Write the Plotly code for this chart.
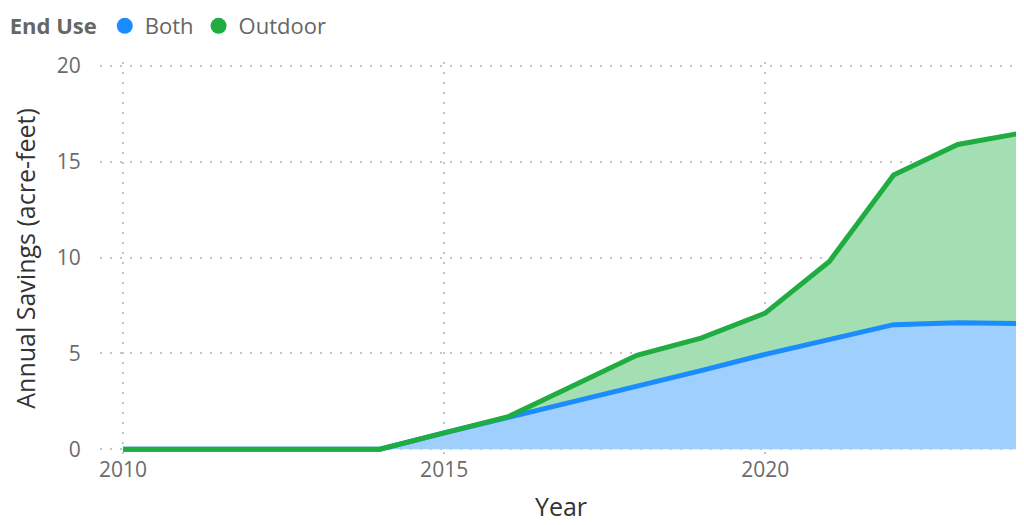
import plotly.graph_objects as go

years = list(range(2010, 2025))
both = [0, 0, 0, 0, 0, 0.85, 1.65, 2.5, 3.3, 4.1, 4.95, 5.7, 6.5, 6.6, 6.55]
outdoor = [0, 0, 0, 0, 0, 0, 0.05, 0.8, 1.6, 1.7, 2.15, 4.1, 7.8, 9.3, 9.95]

BLUE = "#1a8cff"
BLUE_FILL = "#9ecffd"
GREEN = "#1fac41"
GREEN_FILL = "#a3dfb2"

fig = go.Figure()

# stacked areas
fig.add_trace(go.Scatter(x=years, y=both, name="Both", stackgroup="one",
                         mode="lines", line=dict(color=BLUE, width=5),
                         fillcolor=BLUE_FILL, showlegend=False))
fig.add_trace(go.Scatter(x=years, y=outdoor, name="Outdoor", stackgroup="one",
                         mode="lines", line=dict(color=GREEN, width=5),
                         fillcolor=GREEN_FILL, showlegend=False))

# legend entries with round markers
fig.add_trace(go.Scatter(x=[None], y=[None], mode="markers", name="Both",
                         marker=dict(color=BLUE, size=22)))
fig.add_trace(go.Scatter(x=[None], y=[None], mode="markers", name="Outdoor",
                         marker=dict(color=GREEN, size=22)))

grid = dict(showgrid=True, gridcolor="#c4c4c4", griddash="2px,8px", gridwidth=2,
            zeroline=False, showline=False, automargin=False,
            tickfont=dict(size=21, color="#6b6b6b"),
            title_font=dict(size=25, color="#333333"))

fig.update_layout(
    width=1024, height=525,
    paper_bgcolor="white", plot_bgcolor="white",
    font=dict(family="Open Sans, sans-serif"),
    margin=dict(l=92, r=10, t=54, b=78, autoexpand=False),
    xaxis=dict(title_text="Year", range=[2009.64, 2024], tickvals=[2010, 2015, 2020],
               ticks="", title_standoff=16, **grid),
    yaxis=dict(title_text="Annual Savings (acre-feet)", range=[-0.3, 20.2],
               tickvals=[0, 5, 10, 15, 20], ticks="outside", ticklen=14,
               tickcolor="white", title_standoff=15, **grid),
    legend=dict(orientation="h", x=-0.1, y=1.145, xanchor="left", yanchor="top",
                traceorder="normal",
                title=dict(text="<b>End Use</b>", font=dict(size=22, color="#666666")),
                font=dict(size=22, color="#666666"),
                itemsizing="trace", itemwidth=30),
)

fig.write_html("out.html")
